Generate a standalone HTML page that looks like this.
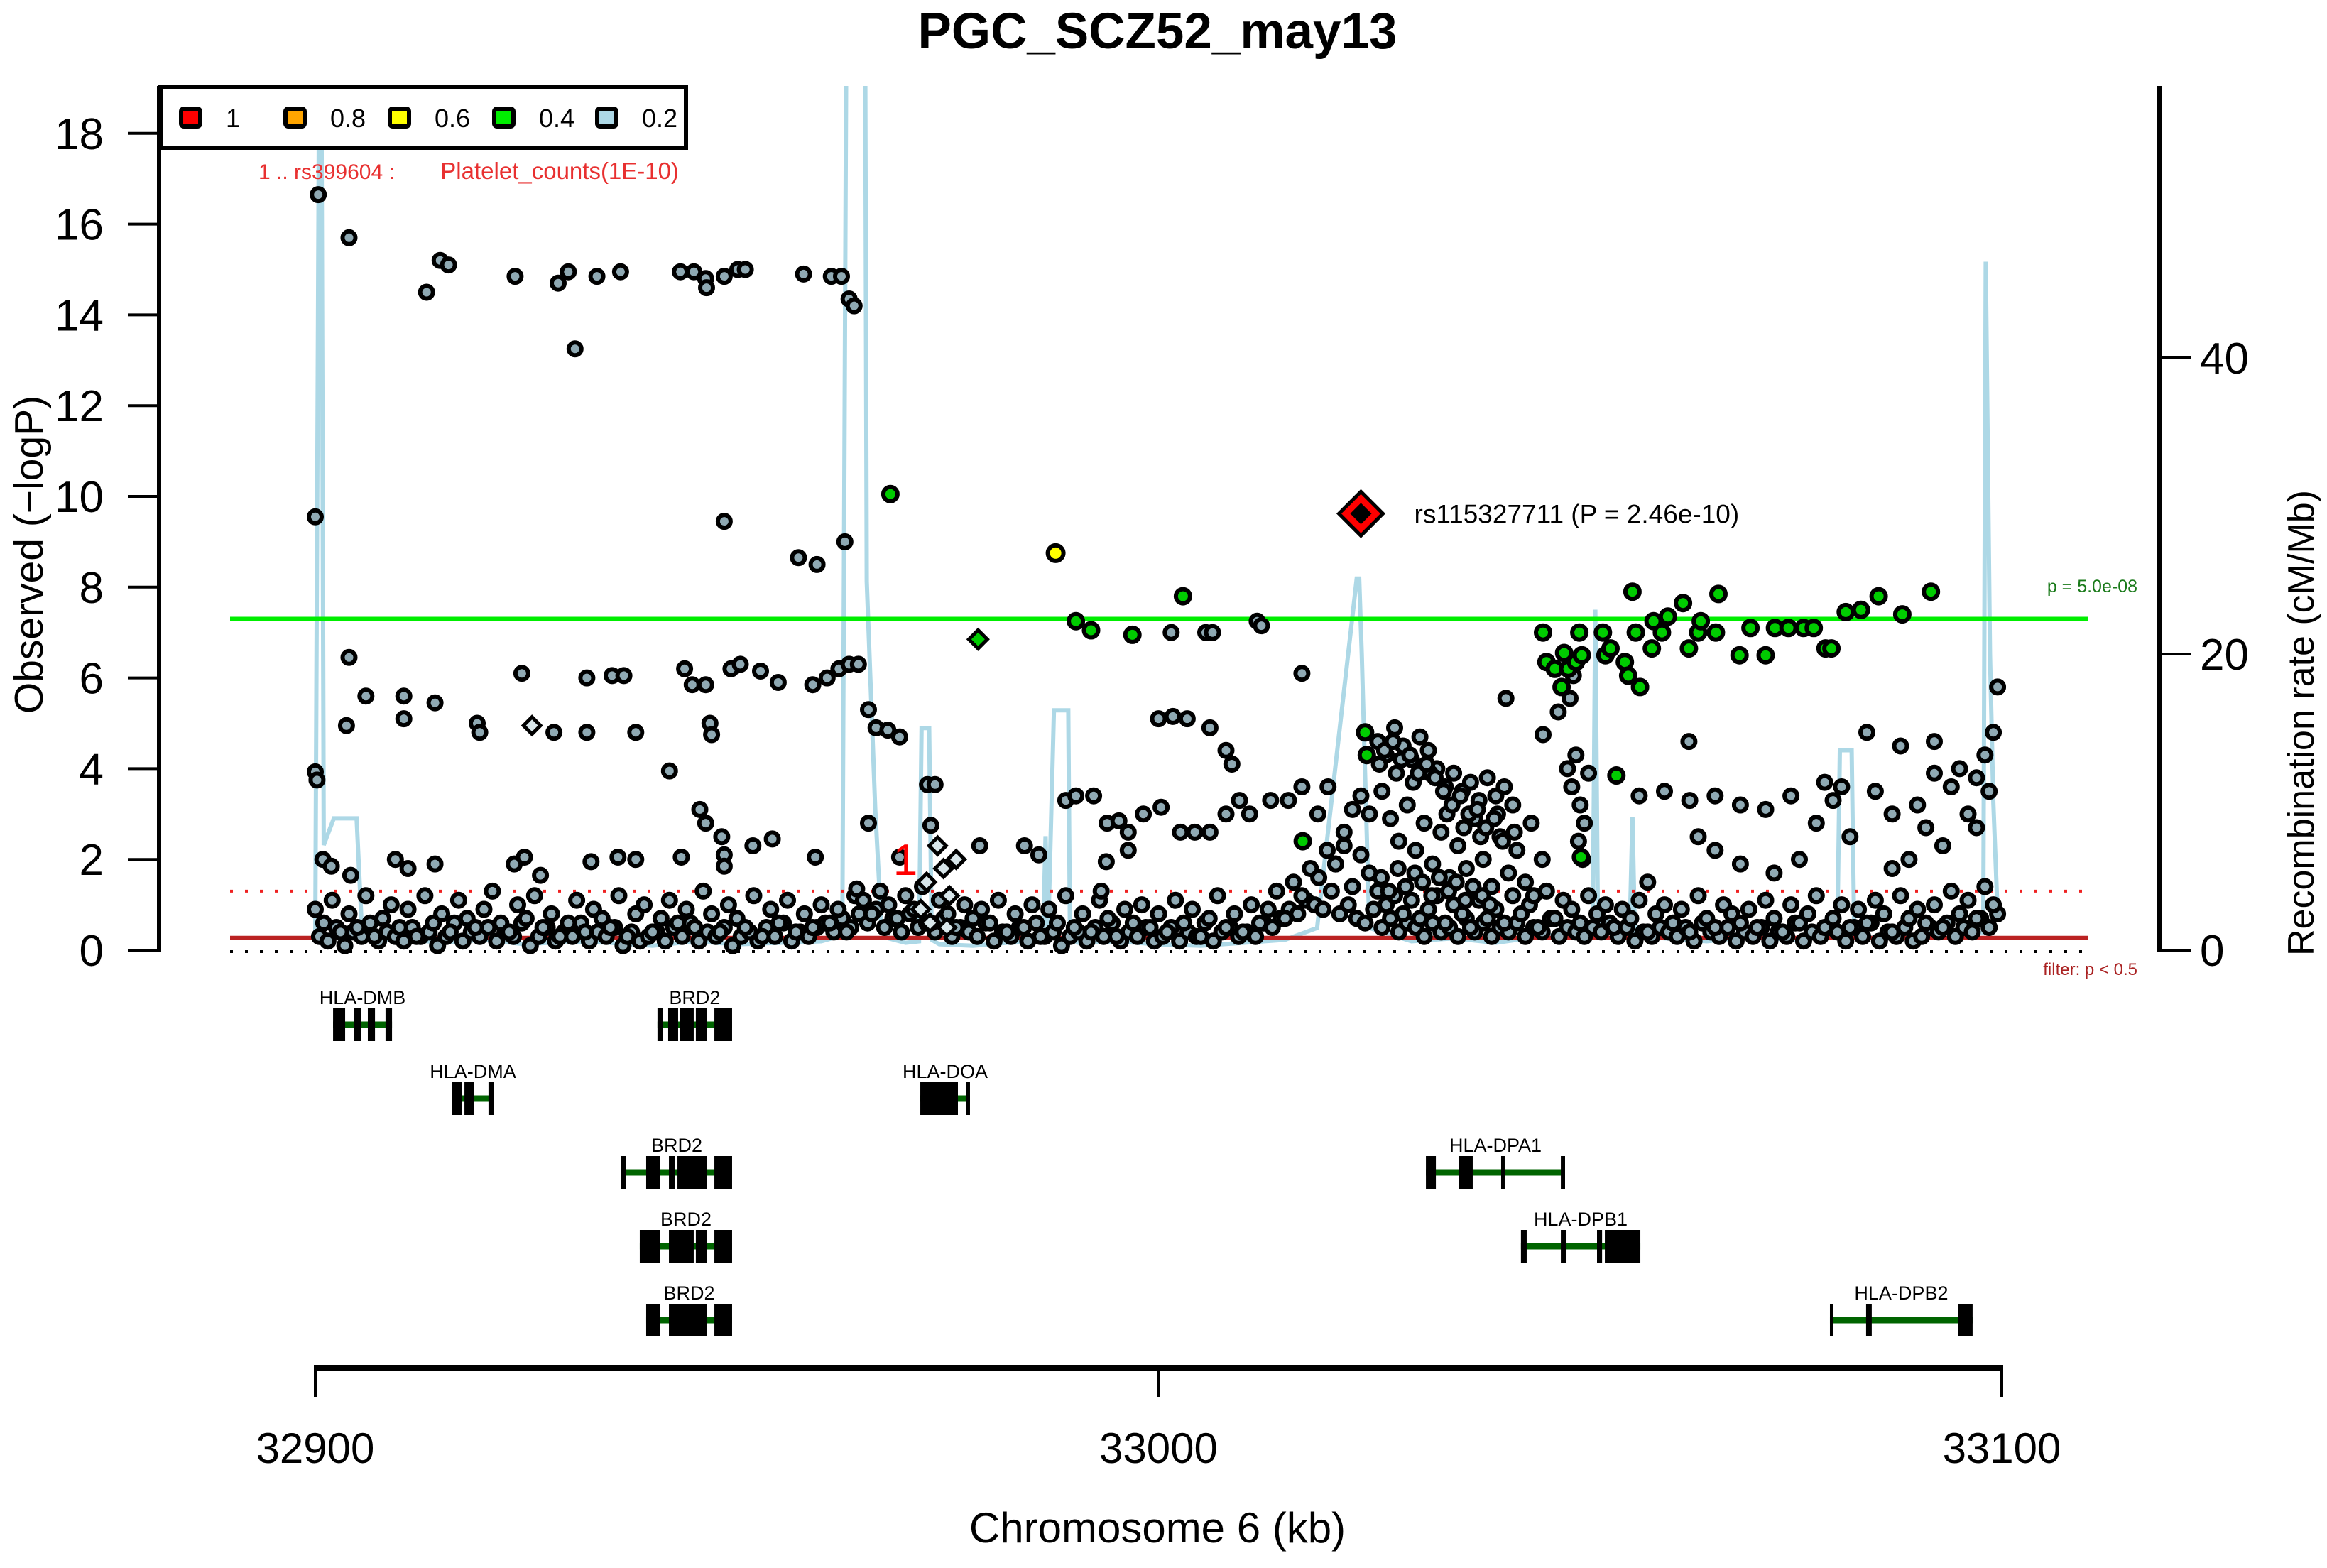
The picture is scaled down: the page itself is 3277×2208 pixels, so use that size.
<!DOCTYPE html>
<html><head><meta charset="utf-8"><style>
html,body{margin:0;padding:0;background:#fff;}
svg{display:block;font-family:"Liberation Sans",Arial,sans-serif;}
</style></head><body>
<svg id="chart" width="3277" height="2208" viewBox="0 0 3277 2208" xmlns="http://www.w3.org/2000/svg">
<defs><clipPath id="plotclip"><rect x="226" y="121" width="2812" height="1220"/></clipPath></defs>
<text x="1630" y="68" font-size="71" font-weight="bold" text-anchor="middle">PGC_SCZ52_may13</text>
<g id="recomb" clip-path="url(#plotclip)"></g>
<g id="refs"></g>
<g id="points"></g>
<g id="axes"></g>
<g id="genes"></g>
<g id="legend"></g>
<text transform="translate(60,781) rotate(-90)" font-size="57" text-anchor="middle">Observed (−logP)</text>
<text transform="translate(3258,1018) rotate(-90)" font-size="52" text-anchor="middle">Recombination rate (cM/Mb)</text>
<text x="1630" y="2172" font-size="60" text-anchor="middle">Chromosome 6 (kb)</text>
</svg>
<script>
const yTicks = [0,2,4,6,8,10,12,14,16,18];
const y2Ticks = [0,20,40];
const xTicks = [32900,33000,33100];
const recKb = [32900.0,32900.5,32900.7,32901.0,32902.2,32904.9,32905.5,32907,32910,32915,
32920,32925,32930,32935,32940,32945,32950,32955,32960,32962.5,
32963.0,32964.2,32965.2,32965.4,32966.4,32967.1,32968,32970,32971.6,32971.9,
32972.8,32973.1,32974,32978,32982,32986.3,32986.6,32986.9,32987.6,32987.8,
32989.3,32989.5,32990.5,32995,33000,33005,33010,33015,33018.8,33023.5,
33023.8,33024.1,33025.0,33030,33035,33040,33045,33050,33051.5,33051.8,
33052.1,33053,33055.9,33056.2,33056.5,33060,33065,33070,33075,33080.5,
33080.8,33082.2,33082.5,33085,33090,33095,33097.8,33098.1,33098.6,33099.0,
33099.5];
const recCM = [1.0,65,65,7.1,8.9,8.9,1.7,0.6,0.8,0.5,
0.7,0.4,0.6,0.5,0.3,0.6,0.4,0.5,0.6,1.0,
65,65,65,24.9,9.6,2.0,0.8,0.5,0.6,15,
15,0.7,0.4,0.3,0.5,0.6,7.7,0.8,16.2,16.2,
16.2,0.8,0.5,0.6,0.4,0.3,0.5,0.7,1.5,25.1,
25.1,20,1.5,0.6,0.8,0.5,0.9,1.2,2.0,23,
2.0,1.5,1.8,9,1.0,0.8,0.6,0.9,0.7,1.0,
13.5,13.5,1.2,0.8,1.0,0.9,1.2,46.5,20,10,
2.5];
const lowStartKb = 32900;
const lowA = [0.9,0.6,1.1,0.4,0.8,0.5,1.2,0.3,0.7,1.0,
0.5,0.9,0.3,1.2,0.6,0.8,0.4,1.1,0.7,0.5,
0.9,1.3,0.6,0.4,1.0,0.7,1.2,0.5,0.8,0.3,
0.6,1.1,0.4,0.9,0.7,0.5,1.2,0.3,0.8,1.0,
0.4,0.7,1.1,0.6,0.9,0.5,1.3,0.8,0.4,1.0,
0.7,0.5,1.2,0.3,0.9,0.6,1.1,0.4,0.8,0.5,
1.0,0.6,0.9,0.4,1.2,1.1,0.8,1.3,1.0,0.7,
1.2,0.9,1.4,0.6,1.1,0.8,0.5,1.0,0.7,0.9,
0.6,1.1,0.4,0.8,0.5,1.0,0.3,0.9,0.6,1.2,
0.5,0.8,0.4,1.1,0.7,0.3,0.9,0.6,1.0,0.5,
0.8,0.4,1.1,0.6,0.9,0.3,0.7,1.2,0.5,0.8,
0.4,1.0,0.6,0.9,1.3,0.7,1.5,1.2,1.8,1.6,
2.2,1.9,2.6,1.4,2.1,1.7,1.3,1.0,1.2,0.8,
1.1,0.7,0.9,1.2,0.6,1.0,0.8,0.5,1.1,0.7,
0.9,0.6,1.2,0.8,1.0,0.5,1.3,0.7,1.1,0.9,
0.6,1.2,0.8,1.0,0.5,0.9,0.7,1.1,0.4,0.8,
1.0,0.6,0.9,0.4,1.2,0.7,0.5,1.0,0.8,0.6,
0.9,0.5,1.1,0.7,0.4,1.0,0.6,0.8,1.2,0.5,
0.7,1.0,0.5,0.9,0.6,1.1,0.8,0.4,1.2,0.7,
0.9,0.6,1.0,0.5,1.3,0.8,1.1,0.7,1.4,1.0];
const lowB = [0.3,0.2,0.5,0.1,0.4,0.3,0.6,0.2,0.4,0.3,
0.2,0.5,0.3,0.4,0.1,0.3,0.6,0.2,0.4,0.3,
0.5,0.2,0.4,0.3,0.6,0.1,0.3,0.5,0.2,0.4,
0.3,0.6,0.2,0.4,0.3,0.5,0.1,0.4,0.2,0.3,
0.4,0.2,0.5,0.3,0.6,0.2,0.4,0.3,0.5,0.1,
0.3,0.4,0.2,0.5,0.3,0.6,0.2,0.4,0.3,0.5,
0.6,0.4,0.7,0.5,0.8,0.6,0.9,0.5,0.7,0.4,
0.8,0.5,0.6,0.4,0.7,0.3,0.5,0.4,0.3,0.6,
0.2,0.4,0.3,0.5,0.2,0.6,0.3,0.4,0.1,0.3,
0.4,0.2,0.5,0.3,0.6,0.2,0.4,0.3,0.5,0.2,
0.3,0.5,0.2,0.4,0.3,0.6,0.2,0.4,0.5,0.3,
0.4,0.3,0.6,0.5,0.7,0.9,0.8,1.1,1.0,0.9,
1.3,0.8,1.0,0.7,0.6,0.9,0.5,0.7,0.4,0.6,
0.5,0.3,0.6,0.4,0.5,0.3,0.7,0.4,0.6,0.3,
0.5,0.4,0.6,0.3,0.5,0.4,0.7,0.3,0.5,0.4,
0.3,0.5,0.4,0.6,0.3,0.5,0.2,0.4,0.3,0.5,
0.4,0.3,0.5,0.2,0.6,0.4,0.3,0.5,0.2,0.4,
0.3,0.5,0.2,0.4,0.3,0.6,0.2,0.4,0.3,0.5,
0.4,0.2,0.5,0.3,0.6,0.2,0.4,0.3,0.5,0.2,
0.3,0.5,0.4,0.6,0.3,0.5,0.4,0.7,0.5,0.8];
const blackKb = [32900.35,32904.0,32913.2,32914.8,32915.8,32923.7,32928.8,32930.0,32930.8,32933.4,32936.2,32943.3,32944.9,32946.3,32946.4,32948.5,32950.1,32951.0,32957.9,32961.2,32962.4,32963.3,32963.9,
32900,32948.5,32957.3,32959.5,32962.8,
32904,32906,32903.7,32910.5,32910.5,32914.2,32919.2,32919.5,32924.5,32928.3,32932.2,32932.2,32935.2,32936.6,32938,32942,32943.8,32944.7,32946.3,32946.8,32947,32949.3,32950.4,32952.8,32954.9,32959,32960.7,32962.1,32963.3,32964.4,32965.6,32966.5,32967.9,32969.3,32972.6,32973.5,
32900,32900.2,32900.9,32901.9,32904.2,32909.5,32911,32914.2,32923.6,32924.8,32926.7,32932.7,32935.9,32938,32945.6,32946.3,32943.4,32948.2,32948.5,32948.5,32951.9,32954.2,32959.3,32964.2,32969.3,32965.6,
32989,32990.2,32992.3,32993.9,32995.3,32996.4,32998.2,33000.3,33002.6,33004.3,33006.1,33008,33009.6,33010.8,33013.3,33015.4,33017,33018.9,33020.1,33000,33001.7,33003.4,33006.1,33008,33008.7,32996.4,32993.8,32985.8,32984.1,32993.2,32978.8,32973,33001.5,33005.6,33006.4,33011.7,33012.2,33017,
33041.2,33045.6,33047.4,33048.8,33049.2,33057,33060,33063,33066,33069,33072,33075,33078,33080,33082,33085,33087,33090,33092,33094,33095,33096,33097,33098,33099,33099.5,33098.5,33097,33093,33091,33089,33087,33084,33088,33092,33062.9,33079,33081,33064,33066,33069,33073,33076,33058];
const blackVal = [16.65,15.7,14.5,15.2,15.1,14.85,14.7,14.95,13.25,14.85,14.95,14.95,14.95,14.8,14.6,14.85,15.0,15.0,14.9,14.85,14.85,14.35,14.2,
9.55,9.45,8.65,8.5,9.0,
6.45,5.6,4.95,5.6,5.1,5.45,5.0,4.8,6.1,4.8,6.0,4.8,6.05,6.05,4.8,3.95,6.2,5.85,5.85,5.0,4.75,6.2,6.3,6.15,5.9,5.85,6.0,6.2,6.3,6.3,5.3,4.9,4.85,4.7,3.65,3.65,
3.93,3.75,2.0,1.85,1.65,2.0,1.8,1.9,1.9,2.05,1.65,1.95,2.05,2.0,3.1,2.8,2.05,2.5,2.1,1.85,2.3,2.45,2.05,1.35,2.05,2.8,
3.3,3.4,3.4,2.8,2.85,2.6,3.0,3.15,2.6,2.6,2.6,3.0,3.3,3.0,3.3,3.3,3.6,3.0,3.6,5.1,5.15,5.1,4.9,4.4,4.1,2.2,1.95,2.1,2.3,1.3,2.3,2.75,7.0,7.0,7.0,7.25,7.15,6.1,
5.55,4.75,5.25,5.55,6.05,3.4,3.5,3.3,3.4,3.2,3.1,3.4,2.8,3.3,2.5,3.5,3.0,3.2,3.9,3.6,4.0,3.0,3.8,4.3,4.8,5.8,3.5,2.7,2.3,2.7,2.0,1.8,4.8,4.5,4.6,4.6,3.7,3.6,2.5,2.2,1.9,1.7,2.0,1.5];
const clusterKb = [33026,33027,33028,33029,33030,33031,33032,33033,33034,33035,33036,33037,33038,33039,33040,33041,33042,
33026.5,33027.5,33028.5,33029.5,33030.5,33031.5,33032.5,33033.5,33034.5,33035.5,33036.5,33037.5,33038.5,33039.5,33040.5,33041.5,33042.5,33043.5,33044.5,33045.5,
33026.2,33028.2,33030.2,33032.2,33034.2,33036.2,33038.2,33040.2,33042.2,33044.2,33021,33022,33023,33024,33025,
33026.8,33027.8,33028.8,33029.8,33030.8,33031.8,33032.8,33033.8,33034.8,33035.8,33036.8,33037.8,33038.8,33039.8,33040.8,
33026.4,33027.3,33028.4,33029.3,33030.4,33031.3,33032.4,33033.3,33034.4,33035.3,33036.4,33037.3,33038.4,33039.3,
33048.5,33049,33049.5,33050,33050.5,33051,33049.8,33050.3];
const clusterVal = [4.6,4.3,4.9,4.5,4.2,4.7,4.4,4.0,3.6,3.9,3.5,3.7,3.3,3.8,3.4,3.6,3.2,
3.5,2.9,2.4,3.2,2.2,2.8,1.9,2.6,1.6,2.3,1.8,2.9,2.0,1.4,2.5,1.7,2.2,1.5,1.2,2.0,
4.1,3.9,3.7,3.9,3.0,2.7,2.5,3.0,2.6,2.8,1.9,2.3,3.1,3.4,3.0,
4.4,4.6,4.2,4.3,3.9,4.1,3.8,3.5,3.2,3.4,3.0,3.1,2.7,2.9,2.4,
1.6,1.3,1.8,1.4,1.7,1.5,1.2,1.6,1.3,1.5,1.1,1.4,1.2,1.0,
4.0,3.6,4.3,3.2,2.8,3.9,2.4,2.0];
const greenKb = [32968.2,32990.2,32992,32996.9,33002.9,33017.1,33024.5,33024.7,
33045.6,33046,33047,33047.8,33048.1,33048.6,33049.5,33049.9,33050.2,33052.7,33053,33053.6,33055.3,33055.7,33056.2,33056.6,33057.1,33058.5,33058.7,33059.7,33060.4,33062.2,33062.9,33064,33064.3,33066.1,33066.4,33068.9,33070.2,33072,33073.1,33074.7,33076.5,33077.7,33079.1,33079.8,33081.5,33083.3,33085.4,33088.2,33091.6,33054.3,33050.1];
const greenVal = [10.05,7.25,7.05,6.95,7.8,2.4,4.8,4.3,
7.0,6.35,6.2,5.8,6.55,6.2,6.35,7.0,6.5,7.0,6.5,6.65,6.35,6.05,7.9,7.0,5.8,6.65,7.25,7.0,7.35,7.65,6.65,7.0,7.25,7.0,7.85,6.5,7.1,6.5,7.1,7.1,7.1,7.1,6.65,6.65,7.45,7.5,7.8,7.4,7.9,3.85,2.05];
const yellowKb = [32987.8];
const yellowVal = [8.75];
const greenDiaKb = [32978.6];
const greenDiaVal = [6.85];
const diaKb = [32925.7,32971.8,32972.5,32973.8,32974.5,32975.2,32976,32972.9,32974.9];
const diaVal = [4.95,0.9,1.5,2.3,1.8,1.2,2.0,0.6,0.5];
const leadKb = [33024.0];
const leadVal = [9.62];
const geneNames = ["HLA-DMB","BRD2","HLA-DMA","HLA-DOA","BRD2","BRD2","BRD2","HLA-DPA1","HLA-DPB1","HLA-DPB2"];
const geneRows = [0,0,1,1,2,3,4,2,3,4];
const geneExons = [
 [[32902.11,32903.54],[32904.63,32905.39],[32906.23,32907.08],[32908.33,32909.10]],
 [[32940.58,32941.18],[32941.85,32943.03],[32943.28,32944.88],[32945.13,32946.48],[32947.33,32949.43]],
 [[32916.25,32917.35],[32917.69,32918.78],[32920.54,32921.14]],
 [[32971.75,32976.21],[32977.14,32977.64]],
 [[32936.29,32936.80],[32939.24,32940.85],[32941.94,32942.61],[32942.95,32946.48],[32947.33,32949.43]],
 [[32938.48,32940.85],[32941.94,32944.88],[32945.13,32946.48],[32947.33,32949.43]],
 [[32939.24,32940.85],[32941.94,32946.48],[32947.33,32949.43]],
 [[33031.71,33032.89],[33035.66,33037.26],[33040.63,33041.05],[33047.71,33048.21]],
 [[33042.98,33043.66],[33047.71,33048.38],[33052.00,33052.60],[33052.93,33057.14]],
 [[33079.62,33080.04],[33083.91,33084.58],[33094.85,33096.54]]];
const legendLabels = ["1","0.8","0.6","0.4","0.2"];
const legendColors = ["#ff0000","#ffa500","#ffff00","#00ee00","#add8e6"];

const NS = "http://www.w3.org/2000/svg";
const X = kb => 444 + (kb - 32900) * 11.875;
const Y = v => 1338 - v * 63.9;
const R = cm => 1338 - cm * 20.85;
function mk(tag, attrs, parent) {
  const e = document.createElementNS(NS, tag);
  for (const k in attrs) e.setAttribute(k, attrs[k]);
  parent.appendChild(e);
  return e;
}
const gRec = document.getElementById('recomb');
const gRef = document.getElementById('refs');
const gPts = document.getElementById('points');
const gAx = document.getElementById('axes');
const gGn = document.getElementById('genes');
const gLg = document.getElementById('legend');

let d = '';
recKb.forEach((k, i) => { d += (i ? 'L' : 'M') + X(k).toFixed(1) + ' ' + R(recCM[i]).toFixed(1); });
const rl = mk('path', {d: d, fill: 'none', stroke: '#add8e6', 'stroke-width': 6}, gRec);



const gl = mk('line', {x1: 324, x2: 2941, y1: Y(7.3), y2: Y(7.3), stroke: '#00ee00', 'stroke-width': 6}, gRef);


const rd = mk('line', {x1: 324, x2: 2941, y1: Y(1.3), y2: Y(1.3), stroke: '#ee2222', 'stroke-width': 4, 'stroke-dasharray': '4 17'}, gRef);


const rs = mk('line', {x1: 324, x2: 2941, y1: Y(0.27), y2: Y(0.27), stroke: '#bb2222', 'stroke-width': 6}, gRef);


const bd = mk('line', {x1: 324, x2: 2941, y1: 1340, y2: 1340, stroke: '#000', 'stroke-width': 4, 'stroke-dasharray': '4 17'}, gRef);


let t = mk('text', {x: 3010, y: 834, 'font-size': 25, fill: '#1a7a1a', 'text-anchor': 'end'}, gRef);
t.textContent = 'p = 5.0e-08';


t = mk('text', {x: 3010, y: 1373, 'font-size': 24, fill: '#aa2222', 'text-anchor': 'end'}, gRef);
t.textContent = 'filter: p < 0.5';



function circ(k, v, fill, r, name) {
  const c = mk('circle', {cx: X(k).toFixed(1), cy: Y(v).toFixed(1), r: r, fill: fill, stroke: '#000', 'stroke-width': 6}, gPts);
  
  
  return c;
}
function dia(k, v, fill, s, name) {
  const x = X(k), y = Y(v);
  const p = mk('polygon', {points: `${x},${y-s} ${x+s},${y} ${x},${y+s} ${x-s},${y}`, fill: fill, stroke: '#000', 'stroke-width': 5}, gPts);
  
  
}
const PF = '#8fa9b3';
lowB.forEach((v, i) => circ(lowStartKb + i + 0.5, v, PF, 9, 'snp-point-low'));
lowA.forEach((v, i) => circ(lowStartKb + i, v, PF, 9, 'snp-point-low'));
clusterKb.forEach((k, i) => circ(k, clusterVal[i], PF, 9, 'snp-point-cluster'));
blackKb.forEach((k, i) => circ(k, blackVal[i], PF, 9, 'snp-point'));
diaKb.forEach((k, i) => dia(k, diaVal[i], '#d8e6ea', 12, 'snp-diamond'));
greenKb.forEach((k, i) => circ(k, greenVal[i], '#00cc00', 10, 'snp-point-ld04'));
yellowKb.forEach((k, i) => circ(k, yellowVal[i], '#ffff00', 11, 'snp-point-ld06'));
greenDiaKb.forEach((k, i) => dia(k, greenDiaVal[i], '#00cc00', 13, 'snp-diamond-ld04'));
leadKb.forEach((k, i) => {
  const x = X(k), y = Y(leadVal[i]);
  const o = mk('polygon', {points: `${x},${y-31} ${x+31},${y} ${x},${y+31} ${x-31},${y}`, fill: '#ff0000', stroke: '#000', 'stroke-width': 5}, gPts);
  
  
  const n = mk('polygon', {points: `${x},${y-15} ${x+15},${y} ${x},${y+15} ${x-15},${y}`, fill: '#000'}, gPts);
  
  
  const l = mk('text', {x: x + 75, y: y + 13, 'font-size': 37}, gPts);
  l.textContent = 'rs115327711 (P = 2.46e-10)';
  
  
});
t = mk('text', {x: 1275, y: 1232, 'font-size': 62, fill: '#ff0000', 'text-anchor': 'middle'}, gPts);
t.textContent = '1';



let a = mk('line', {x1: 224, x2: 224, y1: 121, y2: 1340, stroke: '#000', 'stroke-width': 6}, gAx);


yTicks.forEach(v => {
  const tk = mk('line', {x1: 180, x2: 224, y1: Y(v), y2: Y(v), stroke: '#000', 'stroke-width': 4}, gAx);
  
  
  const tl = mk('text', {x: 146, y: Y(v) + 22, 'font-size': 62, 'text-anchor': 'end'}, gAx);
  tl.textContent = v;
  
  
});
a = mk('line', {x1: 3041, x2: 3041, y1: 121, y2: 1340, stroke: '#000', 'stroke-width': 6}, gAx);


y2Ticks.forEach(v => {
  const tk = mk('line', {x1: 3041, x2: 3085, y1: R(v), y2: R(v), stroke: '#000', 'stroke-width': 4}, gAx);
  
  
  const tl = mk('text', {x: 3098, y: R(v) + 22, 'font-size': 62}, gAx);
  tl.textContent = v;
  
  
});
a = mk('line', {x1: X(32900) - 2, x2: X(33100) + 2, y1: 1926, y2: 1926, stroke: '#000', 'stroke-width': 8}, gAx);


xTicks.forEach(v => {
  const tk = mk('line', {x1: X(v), x2: X(v), y1: 1926, y2: 1967, stroke: '#000', 'stroke-width': 4}, gAx);
  
  
  const tl = mk('text', {x: X(v), y: 2060, 'font-size': 60, 'text-anchor': 'middle'}, gAx);
  tl.textContent = v;
  
  
});

const rowY = [1443, 1547, 1651, 1755, 1859];
geneNames.forEach((nm, i) => {
  const g = mk('g', {}, gGn);
  
  
  const ex = geneExons[i], y = rowY[geneRows[i]];
  const x0 = X(ex[0][0]), x1 = X(ex[ex.length - 1][1]);
  mk('line', {x1: x0, x2: x1, y1: y, y2: y, stroke: '#006400', 'stroke-width': 9}, g);
  ex.forEach(e => {
    const xs = X(e[0]), w = Math.max(5, X(e[1]) - xs);
    mk('rect', {x: xs, y: y - 23, width: w, height: 46, fill: '#000'}, g);
  });
  const lb = mk('text', {x: (x0 + x1) / 2, y: y - 29, 'font-size': 27, 'text-anchor': 'middle'}, g);
  lb.textContent = nm;
});

const lbox = mk('rect', {x: 226, y: 122, width: 740, height: 86, fill: '#fff', stroke: '#000', 'stroke-width': 6}, gLg);


const lgX = [252, 399, 546, 693, 838];
legendLabels.forEach((lab, i) => {
  const sq = mk('rect', {x: lgX[i] + 3, y: 153, width: 27, height: 25, rx: 4, fill: legendColors[i], stroke: '#000', 'stroke-width': 6}, gLg);
  
  
  const tx = mk('text', {x: lgX[i] + 66, y: 179, 'font-size': 36}, gLg);
  tx.textContent = lab;
  
  
});
t = mk('text', {x: 364, y: 252, 'font-size': 30, fill: '#e83030'}, gLg);
t.textContent = '1 .. rs399604 :';


t = mk('text', {x: 956, y: 252, 'font-size': 33, fill: '#e83030', 'text-anchor': 'end'}, gLg);
t.textContent = 'Platelet_counts(1E-10)';


</script>
</body></html>
